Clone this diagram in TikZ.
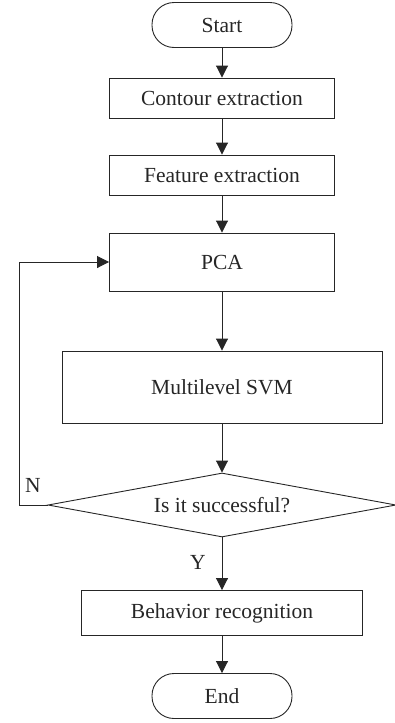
\documentclass[tikz,border=0pt]{standalone}
\usepackage{fontspec}
\setmainfont{Liberation Serif}
\usepackage{tikz}
\usetikzlibrary{arrows.meta,positioning,shapes.geometric}

\begin{document}
\begin{tikzpicture}[
        x=1pt, y=-1pt,
        box/.style={rectangle, draw, line width=0.9pt, inner sep=0pt},
        terminal/.style={rectangle, rounded corners=22pt, draw, line width=0.9pt, inner sep=0pt,
          minimum width=140pt, minimum height=45pt},
        decision/.style={diamond, draw, line width=0.9pt, inner sep=0pt, aspect=5.4,
          minimum width=348pt, minimum height=64pt},
        every node/.style={font=\fontsize{21.5}{25}\selectfont, text=black!85},
        draw=black!85, line width=0.9pt, >={Triangle[length=12pt,width=12pt]}
      ]
      \useasboundingbox (0,0) rectangle (394,723);
      \node[terminal] (start) at (222,25) {Start};
      \node[box, minimum width=225pt, minimum height=40pt] (contour) at (222,98) {Contour extraction};
      \node[box, minimum width=225pt, minimum height=40pt] (feature) at (222,175) {Feature extraction};
      \node[box, minimum width=225pt, minimum height=58pt] (pca) at (222,262) {PCA};
      \node[box, minimum width=320pt, minimum height=72pt] (svm) at (222,387) {Multilevel SVM};
      \node[decision] (check) at (222,505) {Is it successful?};
      \node[box, minimum width=281pt, minimum height=45pt] (behav) at (222,613) {Behavior recognition};
      \node[terminal] (end) at (222,696) {End};
      \coordinate (back) at (19,505);
      \node (no) at (33,485) {N};
      \node (yes) at (198,562) {Y};
      \draw[->] (start) -- (contour);
      \draw[->] (contour) -- (feature);
      \draw[->] (feature) -- (pca);
      \draw[->] (pca) -- (svm);
      \draw[->] (svm) -- (check);
      \draw[->] (check) -- (behav);
      \draw[->] (behav) -- (end);
      \draw[->] (check.west) -- (back) |- (pca.west);
    \end{tikzpicture}
\end{document}
